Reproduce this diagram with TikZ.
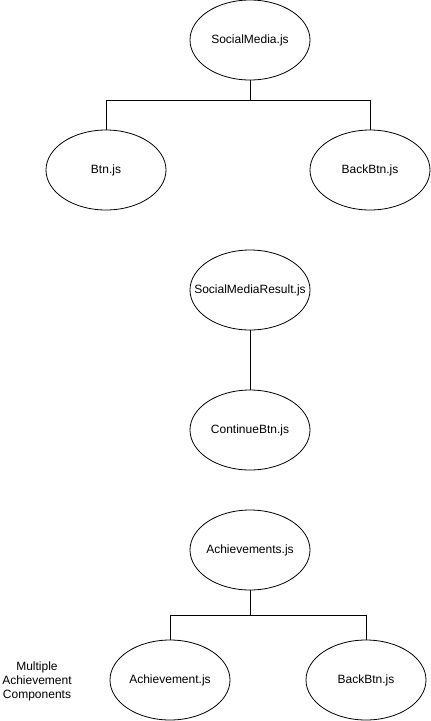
\documentclass[tikz,border=0pt]{standalone}
\usepackage{fontspec}
\setmainfont{Liberation Sans}
\usetikzlibrary{shapes.geometric}
\newcommand{\fixw}[1]{\makebox[0pt]{#1}}
\begin{document}
\begin{tikzpicture}[x=1pt,y=-1pt,
  comp/.style={ellipse,draw,line width=0.8pt,minimum width=120pt,minimum height=80pt,inner sep=0pt,font=\fontsize{12pt}{14pt}\selectfont},
  link/.style={draw,line width=0.8pt},
  note/.style={align=center,font=\fontsize{12pt}{14pt}\selectfont}]
\useasboundingbox (0,0) rectangle (431,721);
\node[comp] (sm) at (250,40) {\fixw{SocialMedia.js}};
\node[comp] (btn) at (106,170) {\fixw{Btn.js}};
\node[comp] (back1) at (370,170) {\fixw{BackBtn.js}};
\node[comp] (smr) at (250,290) {\fixw{SocialMediaResult.js}};
\node[comp] (cont) at (250,430) {\fixw{ContinueBtn.js}};
\node[comp] (ach) at (250,550) {\fixw{Achievements.js}};
\node[comp] (achi) at (170,680) {\fixw{Achievement.js}};
\node[comp] (back2) at (366,680) {\fixw{BackBtn.js}};
\node[note] (multi) at (37,681) {Multiple\\Achievement\\Components};
\draw[link] (sm.south) -- ++(0,20) -| (btn.north);
\draw[link] (sm.south) -- ++(0,20) -| (back1.north);
\draw[link] (smr.south) -- (cont.north);
\draw[link] (ach.south) -- ++(0,25) -| (achi.north);
\draw[link] (ach.south) -- ++(0,25) -| (back2.north);
\end{tikzpicture}
\end{document}
